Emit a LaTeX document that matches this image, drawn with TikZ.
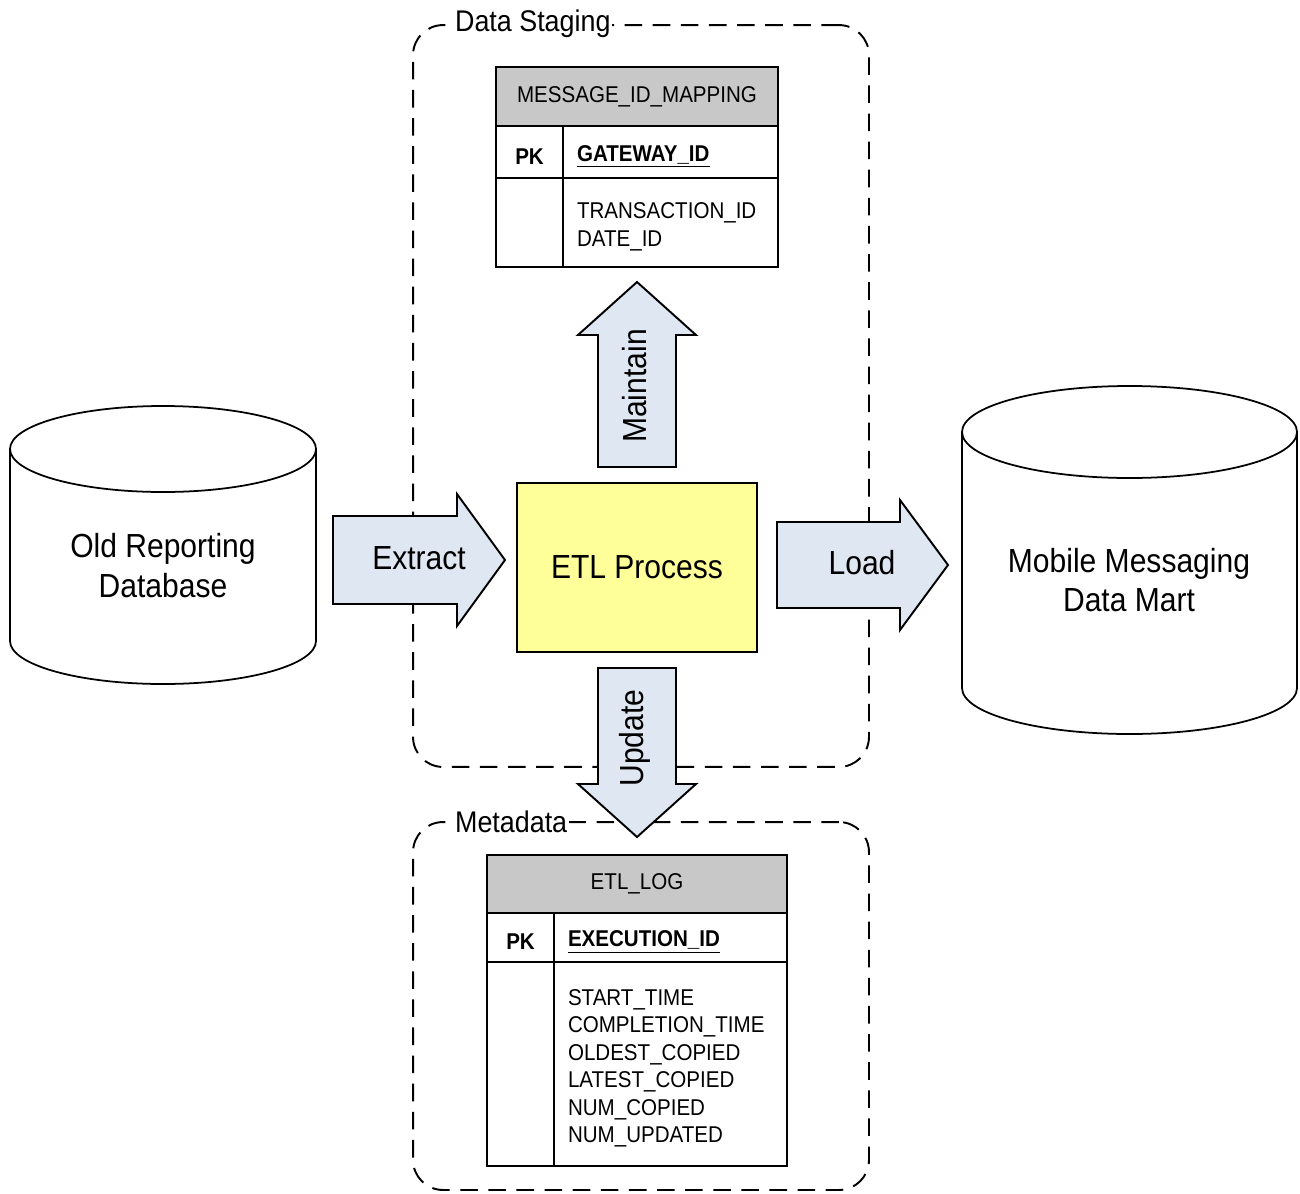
\documentclass[tikz,border=0pt]{standalone}
\usepackage{fontspec}
\setmainfont{Liberation Sans}[FakeStretch=0.9]
\usetikzlibrary{positioning,calc}
\definecolor{arrowfill}{HTML}{DFE7F3}
\definecolor{etlyellow}{HTML}{FFFF99}
\definecolor{hdrgray}{HTML}{C8C8C8}
\tikzset{
  grp/.style={draw, dash pattern=on 10pt off 6pt, line width=1.1pt, rounded corners=0.6cm},
  grplbl/.style={fill=white, inner sep=1pt, font=\fontsize{17}{20}\selectfont},
  db/.style={draw, line width=1pt, fill=white},
  dblbl/.style={align=center, font=\fontsize{19}{22.7}\selectfont},
  etl/.style={draw, line width=1.1pt, fill=etlyellow, minimum width=4.8cm,
              minimum height=3.38cm, font=\fontsize{19}{22.7}\selectfont},
  blockarrow/.style={draw, line width=1.1pt, fill=arrowfill, line join=miter},
  arrowlbl/.style={font=\fontsize{19}{22.7}\selectfont},
  tblhdr/.style={draw, line width=1.2pt, outer sep=0pt, fill=hdrgray, font=\fontsize{13}{15.6}\selectfont},
  pkcell/.style={draw, line width=1.2pt, outer sep=0pt, minimum width=1.34cm, inner sep=0pt,
                 font=\fontsize{13}{15.6}\selectfont\bfseries, execute at begin node={\rule{0pt}{14pt}}},
  keycell/.style={draw, line width=1.2pt, outer sep=0pt, inner xsep=0.28cm, inner ysep=0pt, align=left,
                  font=\fontsize{13}{15.6}\selectfont\bfseries, execute at begin node={\rule{0pt}{14pt}}},
  colcell/.style={draw, line width=1.2pt, outer sep=0pt, inner xsep=0.28cm, inner ysep=0pt, align=left,
                  font=\fontsize{13}{15.6}\selectfont, execute at begin node={\rule{0pt}{14pt}}}
}

\begin{document}
\begin{tikzpicture}[x=0.02cm,y=-0.02cm]
\useasboundingbox (0,0) rectangle (1300,1193);
% groups
\node[grp, minimum width=9.12cm, minimum height=14.84cm] (staging) at (641,396) {};
\node[grplbl, anchor=west] (staginglbl) at (453,24) {Data Staging};
\node[grp, minimum width=9.12cm, minimum height=7.36cm] (meta) at (641,1006) {};
\node[grplbl, anchor=west] (metalbl) at (453,822) {Metadata};

% MESSAGE_ID_MAPPING table
\node[tblhdr, minimum width=5.64cm, minimum height=1.18cm] (msghdr) at (637,96.5) {MESSAGE\_ID\_MAPPING};
\node[pkcell, minimum height=1.04cm, anchor=north west] (msgpk) at (msghdr.south west) {PK};
\node[keycell, text width=3.74cm, minimum height=1.04cm, anchor=north west] (msgkey) at (msgpk.north east) {\underline{GATEWAY\_ID}};
\node[pkcell, minimum height=1.78cm, anchor=north west] (msgpkb) at (msgpk.south west) {};
\node[colcell, text width=3.74cm, minimum height=1.78cm, anchor=north west] (msgcols) at (msgpkb.north east) {TRANSACTION\_ID\\DATE\_ID};

% ETL_LOG table
\node[tblhdr, minimum width=6cm, minimum height=1.16cm] (loghdr) at (637,884) {ETL\_LOG};
\node[pkcell, minimum height=0.98cm, anchor=north west] (logpk) at (loghdr.south west) {PK};
\node[keycell, text width=4.1cm, minimum height=0.98cm, anchor=north west] (logkey) at (logpk.north east) {\underline{EXECUTION\_ID}};
\node[pkcell, minimum height=4.08cm, anchor=north west] (logpkb) at (logpk.south west) {};
\node[colcell, text width=4.1cm, minimum height=4.08cm, anchor=north west] (logcols) at (logpkb.north east)
  {START\_TIME\\COMPLETION\_TIME\\OLDEST\_COPIED\\LATEST\_COPIED\\NUM\_COPIED\\NUM\_UPDATED};

% databases
\draw[db] (10,449) -- (10,641) arc[start angle=180, end angle=0, x radius=153, y radius=43] -- (316,449);
\draw[db] (163,449) ellipse[x radius=153, y radius=43];
\node[dblbl] (olddb) at (163,566) {Old Reporting\\Database};
\draw[db] (962,432) -- (962,688) arc[start angle=180, end angle=0, x radius=167.5, y radius=46] -- (1297,432);
\draw[db] (1129.5,432) ellipse[x radius=167.5, y radius=46];
\node[dblbl] (mart) at (1129,580) {Mobile Messaging\\Data Mart};

\node[etl] (etl) at (637,567.5) {ETL Process};

% block arrows
\draw[blockarrow] (333,516) -- (457,516) -- (457,494) -- (505,560) -- (457,626) -- (457,604) -- (333,604) -- cycle;
\node[arrowlbl] (extract) at (419,558) {Extract};
\draw[blockarrow] (777,522) -- (900,522) -- (900,500) -- (948,565) -- (900,630) -- (900,608) -- (777,608) -- cycle;
\node[arrowlbl] (load) at (862,563) {Load};
\draw[blockarrow] (598,467) -- (598,335) -- (578,335) -- (637,282) -- (696,335) -- (676,335) -- (676,467) -- cycle;
\node[arrowlbl, rotate=90] (maintain) at (635,386) {Maintain};
\draw[blockarrow] (598,668) -- (598,784) -- (578,784) -- (637,837) -- (696,784) -- (676,784) -- (676,668) -- cycle;
\node[arrowlbl, rotate=90] (update) at (635,738) {Update};
\end{tikzpicture}
\end{document}
